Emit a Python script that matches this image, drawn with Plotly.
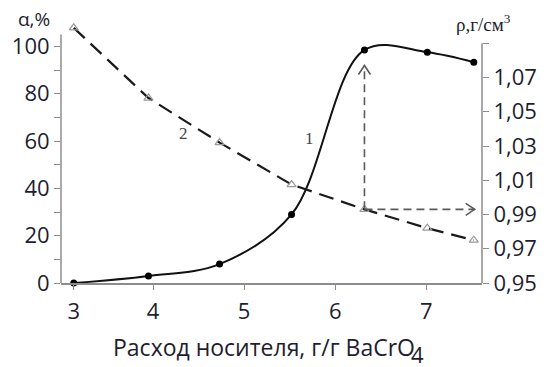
import plotly.graph_objects as go

# ---- data ----
carrier = [3.13, 3.95, 4.73, 5.52, 6.32, 7.01, 7.52]          # x, г/г BaCrO4
alpha = [0, 3, 8, 29, 98.5, 97.5, 93.3]                       # curve 1, %
rho = [1.099, 1.058, 1.032, 1.0075, 0.993, 0.982, 0.975]      # curve 2, г/см3

x_tickvals = [3.13, 4, 5, 6, 7]
x_ticktext = ["3", "4", "5", "6", "7"]
a_tickvals = [0, 20, 40, 60, 80, 100]
a_axis_top = 105
r_tickvals = [0.95, 0.97, 0.99, 1.01, 1.03, 1.05, 1.07, 1.09]
r_ticktext = ["0,95", "0,97", "0,99", "1,01", "1,03", "1,05", "1,07", ""]

arrow_idx = 4          # point used for the read-off arrows
arrow_top_rho = 1.077  # where the vertical arrow stops
arrow_right_x = 7.53   # where the horizontal arrow stops

W, H = 549, 367
L, R, T, B = 60, 64, 22, 84
pw, ph = W - L - R, H - T - B

def px_x(p):
    return (p - L) / pw

def px_y(p):
    return (H - B - p) / ph

AX = "#8c8c8c"
TXT = "#1e1e30"
tick_font = dict(family="Open Sans", size=22, color=TXT)

fig = go.Figure()

fig.add_trace(go.Scatter(
    x=carrier, y=rho, yaxis="y2", mode="lines+markers",
    line=dict(color="#1a1a1a", width=2.2, dash="15px,8px"),
    marker=dict(symbol="triangle-up-open", size=8, color="#9a9a9a",
                line=dict(width=1.2, color="#9a9a9a")),
    cliponaxis=False, showlegend=False))

fig.add_trace(go.Scatter(
    x=carrier, y=alpha, mode="lines+markers",
    line=dict(color="#111111", width=2, shape="spline", smoothing=1.0),
    marker=dict(symbol="circle", size=7, color="#000000"),
    cliponaxis=False, showlegend=False))

xa = carrier[arrow_idx]
ya = rho[arrow_idx]
arrow_col = "#5a5a5a"
shapes = [
    dict(type="line", xref="x", yref="y2", x0=xa, x1=xa, y0=ya, y1=arrow_top_rho,
         line=dict(color=arrow_col, width=1.6, dash="8px,5px")),
    dict(type="line", xref="x", yref="y2", x0=xa, x1=arrow_right_x, y0=ya, y1=ya,
         line=dict(color=arrow_col, width=1.6, dash="8px,5px")),
    dict(type="path", xref="x", yref="y2", xsizemode="pixel", ysizemode="pixel",
         xanchor=xa, yanchor=arrow_top_rho, path="M -6 -9 L 0 0 L 6 -9",
         line=dict(color=arrow_col, width=1.6)),
    dict(type="path", xref="x", yref="y2", xsizemode="pixel", ysizemode="pixel",
         xanchor=arrow_right_x, yanchor=ya, path="M -9 6 L 0 0 L -9 -6",
         line=dict(color=arrow_col, width=1.6)),
    # left axis line (0 .. 105)
    dict(type="line", xref="paper", yref="y", x0=0, x1=0,
         y0=0, y1=a_axis_top, line=dict(color=AX, width=1.5)),
    # right axis line (0,95 .. 1,09)
    dict(type="line", xref="paper", yref="y2", x0=1, x1=1,
         y0=r_tickvals[0], y1=r_tickvals[-1], line=dict(color=AX, width=1.5)),
]

def note(text, x, y, font, xref="paper", yref="paper", xanchor="center"):
    return dict(text=text, xref=xref, yref=yref, x=x, y=y, showarrow=False,
                xanchor=xanchor, yanchor="middle", borderpad=0, font=font)

title_font = dict(family="Open Sans", size=23, color=TXT)
annotations = [
    note("α,%", px_x(33), px_y(19), dict(family="Open Sans", size=19, color=TXT)),
    note("ρ,г/см<sup>3</sup>", px_x(487), px_y(23),
         dict(family="Liberation Serif", size=19, color=TXT)),
    note("1", 5.72, 61, dict(family="Liberation Serif", size=17, color="#444444"),
         xref="x", yref="y"),
    note("2", 4.33, 63.4, dict(family="Liberation Serif", size=17, color="#444444"),
         xref="x", yref="y"),
    note("Расход носителя, г/г BaCrO", px_x(111), px_y(347), title_font,
         xanchor="left"),
    note("4", px_x(412), px_y(354), dict(family="Open Sans", size=22, color=TXT),
         xanchor="left"),
]

fig.update_layout(
    width=W, height=H, margin=dict(l=L, r=R, t=T, b=B),
    paper_bgcolor="white", plot_bgcolor="white",
    shapes=shapes, annotations=annotations,
    xaxis=dict(range=[2.99, 7.61], tickvals=x_tickvals, ticktext=x_ticktext,
               showline=True, linecolor=AX, linewidth=1.5, ticks="outside",
               ticklen=5, tickcolor=AX, tickwidth=1.2, showgrid=False,
               zeroline=False, tickfont=tick_font, ticklabelstandoff=3),
    yaxis=dict(range=[0, (H - B - T) / 2.366], tickvals=a_tickvals,
               showline=False, ticks="outside",
               ticklen=6, tickcolor=AX, tickwidth=1.2, showgrid=False,
               zeroline=False, tickfont=tick_font,
               minor=dict(tickvals=[10, 30, 50, 70, 90], ticks="outside", ticklen=6,
                          tickcolor=AX, tickwidth=1.2, showgrid=False)),
    yaxis2=dict(range=[0.95, 0.95 + (H - B - T) / 1712.5], overlaying="y",
                side="right", tickvals=r_tickvals, ticktext=r_ticktext,
                showline=False, ticks="outside", ticklen=6, tickcolor=AX,
                tickwidth=1.2, showgrid=False, zeroline=False, tickfont=tick_font),
)

fig.write_html("out.html")
